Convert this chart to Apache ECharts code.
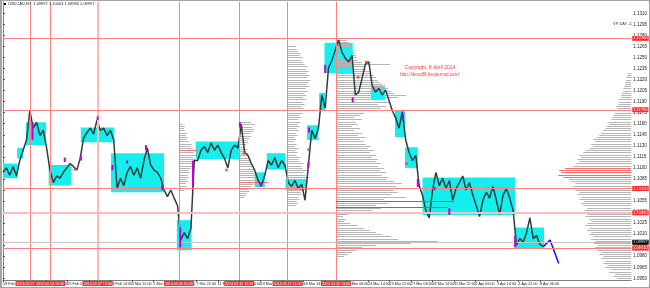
<!DOCTYPE html>
<html><head><meta charset="utf-8">
<script src="https://cdn.jsdelivr.net/npm/echarts@6/dist/echarts.min.js"></script>
<style>html,body{margin:0;padding:0;background:#fff}#c{width:650px;height:288px}</style>
</head><body><div id="c"></div>
<script>
// ---------- data ----------
const titleText = 'USDCAD,H1  1.09997 1.10004 1.09985 1.09997';
const priceTicks = [1.0950,1.0965,1.0980,1.0995,1.1010,1.1025,1.1040,1.1055,1.1070,1.1085,1.1100,1.1115,1.1130,1.1145,1.1160,1.1175,1.1190,1.1205,1.1220,1.1235,1.1250,1.1265,1.1280,1.1295,1.1310];
const timeTickBars = [0,32,64,96,128,160,192,224,256,288,320,352,384,416,448,480,512,544,576,608,640,672,704,736,768,800];
const timeLabels = ['19 Feb 2014','21 Feb 06:00','24 Feb 14:00','25 Feb 22:00','27 Feb 06:00','28 Feb 14:00','3 Mar 22:00','5 Mar 06:00','6 Mar 14:00','7 Mar 22:00','11 Mar 06:00','12 Mar 14:00','13 Mar 22:00','17 Mar 06:00','18 Mar 14:00','19 Mar 22:00','21 Mar 06:00','24 Mar 14:00','25 Mar 22:00','27 Mar 06:00','28 Mar 14:00','31 Mar 22:00','2 Apr 06:00','3 Apr 14:00','4 Apr 22:00','8 Apr 06:00'];

const sampleStep = 5; // H1 bars between samples
const closes = [1.1094,1.1100,1.1090,1.1102,1.1089,1.1110,1.1124,1.1138,1.1178,1.1154,
 1.1162,1.1144,1.1151,1.1127,1.1097,1.1080,1.1089,1.1086,1.1094,1.1100,
 1.1106,1.1102,1.1097,1.1113,1.1140,1.1148,1.1154,1.1146,1.1165,1.1151,
 1.1154,1.1144,1.1151,1.1138,1.1072,1.1086,1.1076,1.1094,1.1102,1.1090,
 1.1100,1.1086,1.1110,1.1127,1.1104,1.1097,1.1094,1.1086,1.1070,1.1061,
 1.1070,1.1059,1.1049,1.1002,1.1012,1.1004,1.1018,1.1110,1.1110,1.1124,
 1.1129,1.1121,1.1134,1.1124,1.1131,1.1121,1.1113,1.1100,1.1124,1.1131,
 1.1127,1.1159,1.1121,1.1117,1.1106,1.1097,1.1083,1.1076,1.1090,1.1110,
 1.1104,1.1114,1.1100,1.1110,1.1104,1.1080,1.1075,1.1083,1.1072,1.1078,
 1.1056,1.1104,1.1151,1.1140,1.1154,1.1199,1.1181,1.1236,1.1246,1.1260,
 1.1274,1.1257,1.1249,1.1244,1.1253,1.1199,1.1203,1.1222,1.1241,1.1244,
 1.1212,1.1203,1.1208,1.1199,1.1206,1.1192,1.1178,1.1168,1.1154,1.1176,
 1.1138,1.1121,1.1110,1.1117,1.1076,1.1063,1.1042,1.1032,1.1070,1.1094,
 1.1076,1.1086,1.1072,1.1083,1.1056,1.1072,1.1080,1.1089,1.1070,1.1080,
 1.1063,1.1049,1.1034,1.1056,1.1067,1.1059,1.1075,1.1056,1.1037,1.1063,
 1.1072,1.1059,1.1042,1.0995,1.1004,1.0999,1.1012,1.1032,1.1004,1.1008,
 1.0996,1.0993];

const forecastBars = [805, 815, 828];
const forecastPrices = [1.0993, 1.1002, 1.0970];

const boxStart  = [0, 21, 34, 68, 116, 161, 259, 287, 375, 393, 421, 453, 471, 479, 548, 584, 599, 625, 763];
const boxEnd    = [22, 30, 64, 102, 166, 240, 281, 353, 390, 421, 453, 470, 480, 521, 569, 599, 618, 763, 806];
const boxTop    = [1.1106,1.1127,1.1162,1.1104,1.1155,1.1120,1.1029,1.1136,1.1094,1.1120,1.1085,1.1158,1.1202,1.1270,1.1212,1.1178,1.1128,1.1087,1.1019];
const boxBottom = [1.1086,1.1113,1.1131,1.1076,1.1135,1.1067,1.0988,1.1112,1.1074,1.1098,1.1070,1.1138,1.1178,1.1229,1.1192,1.1142,1.1100,1.1036,1.0991];

const magBars = [44, 92, 116, 141, 163, 185, 213, 237, 264, 283, 353, 384, 455, 456, 480, 521, 596, 618, 643, 665, 763];
const magLo   = [1.1138,1.1108,1.1110,1.1165,1.1097,1.1106,1.1124,1.1070,1.0992,1.1074,1.1155,1.1074,1.1100,1.1148,1.1229,1.1189,1.1165,1.1074,1.1070,1.1036,1.0992];
const magHi   = [1.1160,1.1114,1.1117,1.1170,1.1104,1.1110,1.1131,1.1076,1.1019,1.1110,1.1162,1.1080,1.1108,1.1155,1.1240,1.1196,1.1174,1.1085,1.1074,1.1045,1.1008];

const dotBars   = [107, 333, 359, 455, 529, 541, 601];
const dotPrices = [1.1098, 1.1097, 1.1120, 1.1125, 1.1223, 1.1244, 1.1106];

const levelPrices = [1.1276, 1.1179, 1.1072, 1.1039, 1.0991];
const levelLabels = ['1.12760', '1.11790', '1.10720', '1.10390', '1.09910'];
const eventBars   = [41, 70, 141, 262, 352, 424, 496];
const eventLabels = ['2014.02.21 15:00','2014.02.24 20:00','2014.02.27 19:00','2014.03.06 20:00','2014.03.12 14:00','2014.03.17 14:00','2014.03.20 14:00'];
const lastPrice = 1.0999;
const lastLabel = '1.09997';

const vaStart  = [496, 496];
const vaEnd    = [672, 662];
const vaPrices = [1.1055, 1.1047];

const vpStep = 0.0003;
// big profile from 20 Mar 14:00
const vpMainAnchor = 496, vpMainFrom = 1.0980;
const vpMainVol = [8,12,16,20,26,40,75,102,62,55,46,40,34,28,22,14,8,10,7,12,18,36,45,40,52,60,48,70,55,62,58,64,60,66,58,50,52,46,50,44,48,42,45,40,42,36,40,34,38,32,35,30,28,24,30,22,26,18,24,16,22,20,26,18,24,28,34,45,50,42,55,48,62,70,58,55,52,48,46,44,42,40,38,35,33,30,28,54,26,22,21,20,19,18,16,15,14,12,10];
// right-edge profile
const vpRightFrom = 1.0950;
const vpRightVol = [14,18,16,22,20,26,24,28,26,30,28,32,30,34,36,33,38,36,40,38,42,40,44,42,46,44,40,42,46,44,48,46,44,48,50,47,52,50,54,52,56,54,58,56,60,62,68,73,70,72,66,58,55,52,54,50,52,48,45,42,38,40,36,38,34,32,30,28,26,25,22,23,20,19,18,16,17,14,15,13,12,12,10,10,9,8,8,7,6,6,5,5,4,3];
const vpRightRed = [46,47,48,49,50];
// session profiles
const vpAAnchor = 262, vpAFrom = 1.1070, vpARed = [18];
const vpAVol = [5,6,8,7,9,8,10,9,11,10,12,13,15,14,16,14,17,15,19,14,12,13,10,8,9,7,8,6,5,6,4];
const vpBAnchor = 352, vpBFrom = 1.1060, vpBRed = [7];
const vpBVol = [5,7,8,10,9,12,14,29,18,16,19,17,15,16,13,14,11,12,10,8,9,7,8,6,7,9,8,10,12,11,14,15,13,16,12];
const vpCAnchor = 424, vpCFrom = 1.1049, vpCRed = [8];
const vpCVol = [8,10,9,12,11,14,13,16,29,18,20,17,19,22,18,16,19,15,14,16,12,11,13,9,10,8,11,7,9,6,8,7,10,8,11,9,12,10,13,11,14,12,15,13,16,14,17,15,18,16,19,17,20,18,22,19,21,23,20,22,19,21,18,20,17,16,14,15,12,13,10,9,8];

// ---------- chart ----------
const FONT = 'Liberation Sans';
const X_MAX = 936;
const chart = echarts.init(document.getElementById('c'), null, {renderer: 'canvas'});

function profile(anchor, from, vols, reds, dir) {
  return {
    type: 'custom', z: 2, silent: true, animation: false,
    encode: {x: 0, y: 1},
    data: vols.map((v, i) => [anchor, from + i * vpStep, v, reds.indexOf(i) >= 0 ? 1 : 0]),
    renderItem: (params, api) => {
      const p = api.coord([api.value(0), api.value(1)]);
      const y = Math.round(p[1]) + 0.5;
      return {type: 'line', shape: {x1: p[0], y1: y, x2: p[0] + dir * api.value(2), y2: y},
        style: {stroke: api.value(3) ? '#ff6a6a' : '#b5b5b5', lineWidth: 1}};
    }
  };
}

const redLabel = {show: true, color: '#fff', backgroundColor: '#ff2a2a', fontSize: 4, fontFamily: FONT, padding: [1, 1, 0, 1], distance: 1};

const markData = [];
eventBars.forEach((b, i) => markData.push({
  xAxis: b,
  lineStyle: {color: i === 2 ? '#ffb9b9' : '#ff8080', width: i === 2 ? 2 : 1, type: 'solid'},
  label: Object.assign({}, redLabel, {position: 'start', formatter: eventLabels[i], fontSize: 3.6})
}));
levelPrices.forEach((p, i) => markData.push({
  yAxis: p,
  lineStyle: {color: i === 3 ? '#ffbcbc' : '#ff8080', width: i === 3 ? 2 : 1, type: 'solid'},
  label: Object.assign({}, redLabel, {position: 'end', formatter: levelLabels[i]})
}));
markData.push({
  yAxis: lastPrice, lineStyle: {color: '#c4c4c4', width: 1, type: 'solid'},
  label: Object.assign({}, redLabel, {position: 'end', formatter: lastLabel, backgroundColor: '#000'})
});
vaPrices.forEach((p, i) => markData.push([
  {coord: [vaStart[i], p], lineStyle: {color: '#e04545', width: 1, type: 'solid'}, label: {show: false}},
  {coord: [vaEnd[i], p]}
]));

const option = {
  animation: false,
  backgroundColor: '#ffffff',
  grid: {left: 3, right: 15, top: 2, bottom: 8, containLabel: false},
  xAxis: {
    type: 'value', min: 0, max: X_MAX,
    axisLine: {show: true, onZero: false, lineStyle: {color: '#808080', width: 1}},
    axisTick: {show: true, customValues: timeTickBars, length: 2, lineStyle: {color: '#555'}},
    axisLabel: {customValues: timeTickBars, formatter: v => timeLabels[timeTickBars.indexOf(v)],
      align: 'left', fontSize: 3.7, margin: 2, color: '#222', fontFamily: FONT},
    splitLine: {show: false}
  },
  yAxis: {
    type: 'value', position: 'right', min: 1.09477, max: 1.13254, scale: true,
    axisLine: {show: true, lineStyle: {color: '#808080', width: 1}},
    axisTick: {show: true, customValues: priceTicks, length: 2, lineStyle: {color: '#555'}},
    axisLabel: {customValues: priceTicks, formatter: v => v.toFixed(4), fontSize: 4.5, margin: 2, color: '#222', fontFamily: FONT},
    splitLine: {show: false}
  },
  graphic: [
    {type: 'rect', left: 0, top: 0, shape: {width: 2, height: 288}, style: {fill: '#a3a3a3'}, z: 100},
    {type: 'rect', left: 0, top: 0, shape: {width: 650, height: 1}, style: {fill: '#a3a3a3'}, z: 100},
    {type: 'rect', left: 0, top: 287, shape: {width: 650, height: 1}, style: {fill: '#a3a3a3'}, z: 100},
    {type: 'rect', left: 649, top: 0, shape: {width: 1, height: 288}, style: {fill: '#a3a3a3'}, z: 100},
    {type: 'rect', left: 4, top: 3, shape: {width: 2, height: 2}, style: {fill: '#000'}, z: 100},
    {type: 'text', left: 8, top: 2, style: {text: titleText, fill: '#222', font: '4px ' + FONT}, z: 100},
    {type: 'text', right: 18, top: 22, style: {text: 'VP DAY -1', fill: '#333', font: '4px ' + FONT}, z: 100},
    {type: 'text', x: 430, y: 68, style: {text: 'Copyright, 8 April 2014', fill: '#ff3b3b', font: '5px ' + FONT, align: 'center', textAlign: 'center', verticalAlign: 'middle', textVerticalAlign: 'middle'}, z: 100},
    {type: 'text', x: 430, y: 74.5, style: {text: 'http://dexx88.livejournal.com/', fill: '#ff3b3b', font: '4.6px ' + FONT, align: 'center', textAlign: 'center', verticalAlign: 'middle', textVerticalAlign: 'middle'}, z: 100}
  ],
  series: [
    {
      type: 'custom', z: 1, silent: true, animation: false,
      encode: {x: [0, 1], y: [2, 3]},
      data: boxStart.map((s, i) => [s, boxEnd[i], boxTop[i], boxBottom[i]]),
      renderItem: (params, api) => {
        const a = api.coord([api.value(0), api.value(2)]);
        const b = api.coord([api.value(1), api.value(3)]);
        return {type: 'rect', shape: {x: a[0], y: a[1], width: b[0] - a[0], height: b[1] - a[1]}, style: {fill: '#16eded'}};
      }
    },
    profile(vpMainAnchor, vpMainFrom, vpMainVol, [], 1),
    profile(X_MAX, vpRightFrom, vpRightVol, vpRightRed, -1),
    profile(vpAAnchor, vpAFrom, vpAVol, vpARed, 1),
    profile(vpBAnchor, vpBFrom, vpBVol, vpBRed, 1),
    profile(vpCAnchor, vpCFrom, vpCVol, vpCRed, 1),
    {
      type: 'line', z: 3, silent: true, animation: false,
      data: forecastBars.map((b, i) => [b, forecastPrices[i]]),
      showSymbol: false, lineStyle: {color: '#1010ff', width: 1.5},
      markLine: {symbol: 'none', silent: true, animation: false, precision: 6, data: markData, label: {show: false}}
    },
    {
      type: 'line', z: 4, silent: true, animation: false,
      data: closes.map((p, i) => [i * sampleStep, p]),
      showSymbol: false, lineStyle: {color: '#2e3d3d', width: 1.5}
    },
    {
      type: 'custom', z: 5, silent: true, animation: false,
      encode: {x: 0, y: [1, 2]},
      data: magBars.map((b, i) => [b, magLo[i], magHi[i]]),
      renderItem: (params, api) => {
        const a = api.coord([api.value(0), api.value(2)]);
        const b = api.coord([api.value(0), api.value(1)]);
        return {type: 'rect', shape: {x: a[0] - 1, y: a[1], width: 2, height: Math.max(1.5, b[1] - a[1])}, style: {fill: '#c300d3'}};
      }
    },
    {
      type: 'scatter', z: 6, silent: true, animation: false,
      data: dotBars.map((b, i) => [b, dotPrices[i]]),
      symbolSize: 3, itemStyle: {color: '#e8403a'}
    }
  ]
};
chart.setOption(option);
</script>
</body></html>
